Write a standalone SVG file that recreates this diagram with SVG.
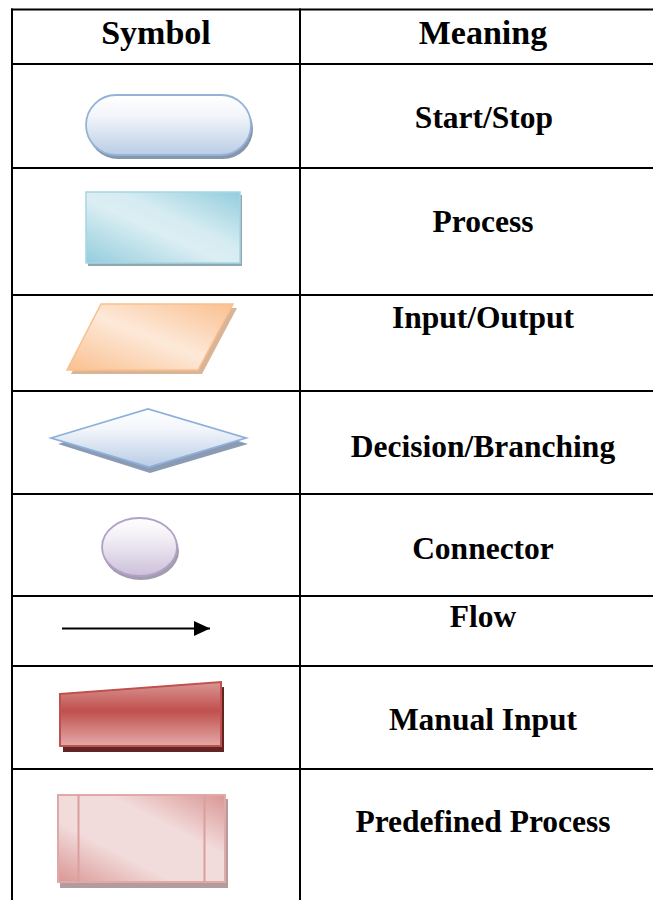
<svg xmlns="http://www.w3.org/2000/svg" width="653" height="900" viewBox="0 0 653 900">
  <style>
    .grid { stroke: #000; stroke-width: 2; fill: none; }
    .label { font-family: "Liberation Serif", "Times New Roman", serif; font-weight: bold; font-size: 31.5px; fill: #000; text-anchor: middle; }
    .head { font-size: 34px; }
  </style>
  <defs>
    <linearGradient id="gBlue" x1="0" y1="0" x2="0" y2="1">
      <stop offset="0" stop-color="#ffffff"/>
      <stop offset="0.35" stop-color="#f2f5fa"/>
      <stop offset="1" stop-color="#b9cde5"/>
    </linearGradient>
    <linearGradient id="gPurple" x1="0" y1="0" x2="0" y2="1">
      <stop offset="0" stop-color="#ffffff"/>
      <stop offset="0.35" stop-color="#f1eef5"/>
      <stop offset="1" stop-color="#ccc0da"/>
    </linearGradient>
    <linearGradient id="gCyan" x1="0" y1="1" x2="1" y2="0">
      <stop offset="0" stop-color="#93cddd"/>
      <stop offset="0.45" stop-color="#dbeef3"/>
      <stop offset="0.6" stop-color="#d6ecf2"/>
      <stop offset="1" stop-color="#93cddd"/>
    </linearGradient>
    <linearGradient id="gOrange" x1="0" y1="1" x2="1" y2="0">
      <stop offset="0" stop-color="#fac090"/>
      <stop offset="0.5" stop-color="#fde9d9"/>
      <stop offset="1" stop-color="#fac090"/>
    </linearGradient>
    <linearGradient id="gRed" x1="0" y1="0" x2="0" y2="1">
      <stop offset="0" stop-color="#d99694"/>
      <stop offset="0.45" stop-color="#c0504d"/>
      <stop offset="1" stop-color="#e3aaa9"/>
    </linearGradient>
    <linearGradient id="gPink" x1="0" y1="1" x2="1" y2="0">
      <stop offset="0" stop-color="#d99694"/>
      <stop offset="0.35" stop-color="#f2dcdb"/>
      <stop offset="0.65" stop-color="#f2dcdb"/>
      <stop offset="1" stop-color="#d99694"/>
    </linearGradient>
    <marker id="arrowHead" markerWidth="16" markerHeight="15" refX="16" refY="7.5" orient="auto" markerUnits="userSpaceOnUse">
      <path d="M0,0 L16,7.5 L0,15 Z" fill="#000"/>
    </marker>
  </defs>

  <rect width="653" height="900" fill="#fff"/>

  <!-- table rules -->
  <g id="table" class="grid">
    <line x1="11" y1="9.5" x2="653" y2="9.5"/>
    <line x1="11" y1="64" x2="653" y2="64"/>
    <line x1="11" y1="168" x2="653" y2="168"/>
    <line x1="11" y1="295" x2="653" y2="295"/>
    <line x1="11" y1="391" x2="653" y2="391"/>
    <line x1="11" y1="494" x2="653" y2="494"/>
    <line x1="11" y1="596" x2="653" y2="596"/>
    <line x1="11" y1="666" x2="653" y2="666"/>
    <line x1="11" y1="769" x2="653" y2="769"/>
    <line x1="12" y1="8.5" x2="12" y2="900"/>
    <line x1="300" y1="8.5" x2="300" y2="900"/>
  </g>

  <!-- header -->
  <g id="header">
    <text class="label head" x="156" y="44">Symbol</text>
    <text class="label head" x="483" y="44">Meaning</text>
  </g>

  <!-- terminator -->
  <g id="start-stop">
    <rect x="88" y="99" width="165" height="60" rx="30" fill="#8796ad"/>
    <rect x="86" y="95" width="165" height="60" rx="30" fill="url(#gBlue)" stroke="#95b3d7" stroke-width="1.8"/>
    <text class="label" x="484" y="128">Start/Stop</text>
  </g>

  <!-- process -->
  <g id="process">
    <rect x="88" y="195" width="154" height="71" fill="#8fa7ad"/>
    <rect x="86" y="192" width="154" height="71" fill="url(#gCyan)" stroke="#a5d6e3" stroke-width="1.5"/>
    <text class="label" x="483" y="232">Process</text>
  </g>

  <!-- input / output -->
  <g id="input-output">
    <polygon points="105,308 237,308 202,374 71,374" fill="#d9b596"/>
    <polygon points="101,304 233,304 198,370 67,370" fill="url(#gOrange)" stroke="#fac08f" stroke-width="1.5"/>
    <text class="label" x="483" y="328">Input/Output</text>
  </g>

  <!-- decision -->
  <g id="decision">
    <polygon points="58,444 150,414 248,444 150,473" fill="#8a9bb3"/>
    <polygon points="51,438 148,409 246,438 149,467" fill="url(#gBlue)" stroke="#8eb0dc" stroke-width="1.8"/>
    <text class="label" x="483" y="457">Decision/Branching</text>
  </g>

  <!-- connector -->
  <g id="connector">
    <ellipse cx="141" cy="551" rx="38" ry="29" fill="#a39cae"/>
    <ellipse cx="139.5" cy="547" rx="37.5" ry="29" fill="url(#gPurple)" stroke="#b2a1c7" stroke-width="1.8"/>
    <text class="label" x="483" y="559">Connector</text>
  </g>

  <!-- flow line -->
  <g id="connectors">
    <line x1="62" y1="628.5" x2="210" y2="628.5" stroke="#000" stroke-width="2" marker-end="url(#arrowHead)"/>
  </g>
  <g id="flow">
    <text class="label" x="483" y="627">Flow</text>
  </g>

  <!-- manual input -->
  <g id="manual-input">
    <polygon points="63,699 224,687 224,752 63,752" fill="#632523"/>
    <polygon points="60,694 221,682 221,746 60,746" fill="url(#gRed)" stroke="#c0504d" stroke-width="2"/>
    <text class="label" x="483" y="730">Manual Input</text>
  </g>

  <!-- predefined process -->
  <g id="predefined-process">
    <rect x="60" y="799" width="168" height="89" fill="#b39c9e"/>
    <rect x="58" y="795" width="167" height="87" fill="url(#gPink)" stroke="#e0a9a8" stroke-width="2"/>
    <line x1="78.5" y1="795" x2="78.5" y2="882" stroke="#dc9e9d" stroke-width="2"/>
    <line x1="204.5" y1="795" x2="204.5" y2="882" stroke="#dc9e9d" stroke-width="2"/>
    <text class="label" x="483" y="832">Predefined Process</text>
  </g>
</svg>
